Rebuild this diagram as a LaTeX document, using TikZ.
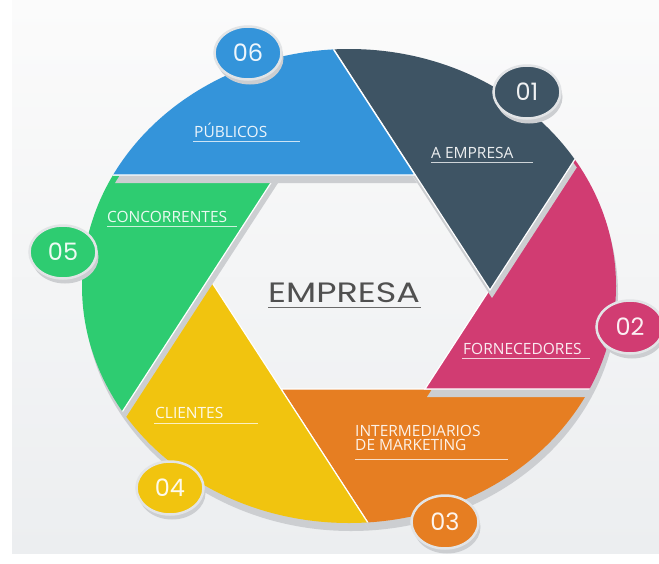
\documentclass[tikz,border=0pt]{standalone}
\usepackage{fontspec}
\setmainfont{Open Sans}
\newfontfamily\numfont{Poppins}
\usetikzlibrary{shapes.geometric,shadows}

\definecolor{cblue}{RGB}{52,148,218}
\definecolor{cdark}{RGB}{62,84,100}
\definecolor{cpink}{RGB}{209,60,114}
\definecolor{corange}{RGB}{230,126,34}
\definecolor{cyellow}{RGB}{241,196,15}
\definecolor{cgreen}{RGB}{46,204,113}
\definecolor{shad}{RGB}{204,206,209}
\definecolor{ring}{RGB}{226,228,230}
\definecolor{bgtop}{RGB}{251,251,251}
\definecolor{bgbot}{RGB}{236,238,240}
\definecolor{titlegray}{RGB}{80,80,80}

% #1,#2 vertex; #3,#4,#5 ray angles; #6 colour
\newcommand\apblade[6]{%
  \begin{scope}[shift={(2,8)}]
    \clip (349,286) ellipse [x radius=267pt, y radius=237pt];
    \fill[shad] (#1,#2) -- +(#3:800) -- +(#4:800) -- +(#5:800) -- cycle;
  \end{scope}
  \begin{scope}
    \clip (349,286) ellipse [x radius=267pt, y radius=237pt];
    \fill[#6, draw=white, line width=1.2pt] (#1,#2) -- +(#3:800) -- +(#4:800) -- +(#5:800) -- cycle;
  \end{scope}}

\begin{document}
\begin{tikzpicture}[x=1pt,y=-1pt,
  lbl/.style={anchor=base west, inner sep=0pt, text=white, text opacity=.9,
    font=\fontsize{15.5}{15.5}\selectfont},
  uline/.style={draw=white, draw opacity=.75, line width=.8pt},
  numc/.style={ellipse, minimum width=67pt, minimum height=53pt, inner sep=0pt,
    draw=ring, line width=2.5pt, text=white, text opacity=.92,
    font=\numfont\fontsize{24}{24}\selectfont,
    drop shadow={shadow xshift=2pt, shadow yshift=-5pt, fill=shad, opacity=1}},
]
\useasboundingbox (0,0) rectangle (659,563);
\fill[white] (0,0) rectangle (659,563);
\shade[top color=bgtop, bottom color=bgbot] (12,0) rectangle (659,553);

% blades: bottom to top
\apblade{281}{389}{0}{28.5}{57}{corange}
\apblade{425}{389}{-57}{-28.5}{0}{cpink}
\apblade{490}{290}{-123}{-90}{-57}{cdark}
\apblade{209}{278}{57}{90}{123}{cyellow}
\apblade{276}{175}{123}{151.5}{180}{cgreen}
\apblade{415}{175}{-180}{-151.5}{-123}{cblue}

% number badges
\node[numc, fill=cblue]   (n06) at (248,53)  {06};
\node[numc, fill=cdark]   (n01) at (527,92)  {01};
\node[numc, fill=cpink]   (n02) at (630,327) {02};
\node[numc, fill=corange] (n03) at (445,522) {03};
\node[numc, fill=cyellow] (n04) at (170,488) {04};
\node[numc, fill=cgreen]  (n05) at (63,252)  {05};

% labels
\node[lbl] (l06) at (194,137) {PÚBLICOS};
\draw[uline] (193,141) -- (300,141);
\node[lbl] (l01) at (431,158) {A EMPRESA};
\draw[uline] (431,162) -- (533,162);
\node[lbl] (l05) at (107,222) {CONCORRENTES};
\draw[uline] (107,226) -- (237,226);
\node[lbl] (l02) at (463,354) {FORNECEDORES};
\draw[uline] (462,358) -- (590,358);
\node[lbl] (l04) at (155,418) {CLIENTES};
\draw[uline] (154,423) -- (258,423);
\node[lbl] (l03a) at (355,436) {INTERMEDIARIOS};
\node[lbl] (l03b) at (355,450) {DE MARKETING};
\draw[uline] (355,459) -- (508,459);

% centre title
\node[anchor=base west, inner sep=0pt, text=titlegray,
  font=\numfont\fontsize{28}{28}\selectfont] (title) at (268,302) {\scalebox{1.25}[1]{EMPRESA}};
\draw[draw=titlegray!85, line width=1.6pt] (268,307.5) -- (421,307.5);
\end{tikzpicture}
\end{document}
